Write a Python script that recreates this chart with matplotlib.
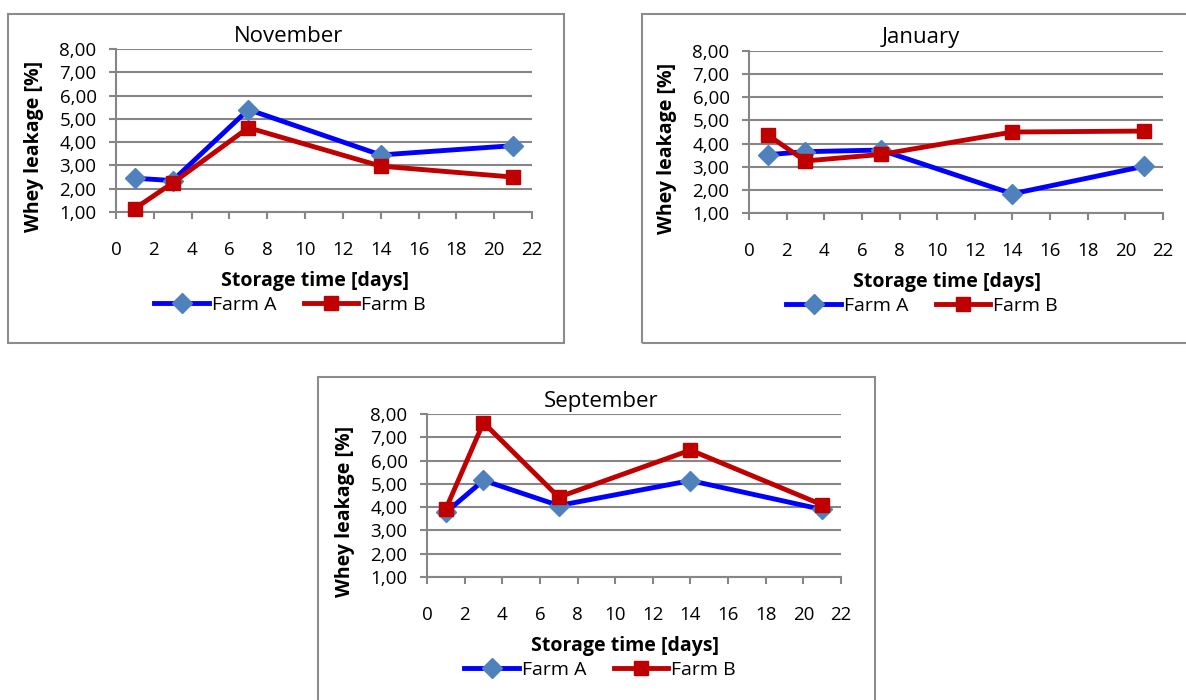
import matplotlib
matplotlib.use("Agg")
import matplotlib.pyplot as plt
from matplotlib.patches import Rectangle
from matplotlib.lines import Line2D
from matplotlib.ticker import FuncFormatter, MultipleLocator

plt.rcParams['font.family'] = ['Open Sans', 'DejaVu Sans']

days = [1, 3, 7, 14, 21]
months = ["November", "January", "September"]
farm_a = {
    "November": [2.45, 2.35, 5.40, 3.45, 3.85],
    "January": [3.52, 3.65, 3.72, 1.83, 3.02],
    "September": [3.77, 5.15, 4.07, 5.14, 3.90],
}
farm_b = {
    "November": [1.15, 2.25, 4.62, 2.97, 2.50],
    "January": [4.37, 3.25, 3.53, 4.50, 4.54],
    "September": [3.92, 7.63, 4.43, 6.45, 4.10],
}
series_names = ["Farm A", "Farm B"]
x_label = "Storage time [days]"
y_label = "Whey leakage [%]"

W, H = 1186, 700
fig = plt.figure(figsize=(W / 100, H / 100), dpi=100)

def fx(px):
    return px / W

def fy(py):
    return 1 - py / H

# layout in pixels: (axes left, axes right, axes top, axes bottom, box l, box r, box t, box b, title x)
layouts = {
    "November": (116, 532, 49, 212, 8, 564, 14, 343, 289),
    "January": (749, 1163, 51, 213, 642, 1200, 14, 343, 921),
    "September": (427, 841, 414, 577, 318, 875, 377, 710, 601),
}

blue = "#0000FF"
blue_marker = "#4F81BD"
red = "#C00000"
grid_c = "#868686"

for m in months:
    l, r, t, b, bl, br, bt, bb, tx = layouts[m]
    fig.patches.append(Rectangle((fx(bl), fy(bb)), fx(br - bl), (bb - bt) / H,
                                 transform=fig.transFigure, fill=False,
                                 edgecolor="#8C8C8C", linewidth=1.5, zorder=0))
    ax = fig.add_axes([fx(l), fy(b), fx(r - l), (b - t) / H])
    ax.set_xlim(0, 22)
    ax.set_ylim(1, 8)
    ax.xaxis.set_major_locator(MultipleLocator(2))
    ax.yaxis.set_major_locator(MultipleLocator(1))
    ax.yaxis.set_major_formatter(FuncFormatter(lambda v, p: f"{v:.2f}".replace(".", ",")))
    ax.grid(axis="y", color=grid_c, linewidth=1.5)
    ax.set_axisbelow(True)
    for s in ["top", "right"]:
        ax.spines[s].set_visible(False)
    for s in ["left", "bottom"]:
        ax.spines[s].set_color(grid_c)
        ax.spines[s].set_linewidth(1.5)
    ax.tick_params(axis="x", length=5, width=1.5, color=grid_c, pad=16, labelsize=13.5)
    ax.tick_params(axis="y", length=5, width=1.5, color=grid_c, pad=9, labelsize=13.5)
    ax.plot(days, farm_a[m], color=blue, linewidth=3.5, marker="D", markersize=10.5,
            markerfacecolor=blue_marker, markeredgecolor=blue_marker, clip_on=False, zorder=3)
    ax.plot(days, farm_b[m], color=red, linewidth=3.5, marker="s", markersize=10,
            markerfacecolor=red, markeredgecolor=red, clip_on=False, zorder=4)
    ax.set_ylabel(y_label, fontsize=14, fontweight="bold")
    ax.yaxis.set_label_coords(-72 / (r - l), 0.40)
    fig.text(fx(tx), fy(t - 13), m, ha="center", va="center", fontsize=16)
    fig.text(fx((l + r) / 2 - 9), fy(b + 69), x_label, ha="center", va="center",
             fontsize=14, fontweight="bold")
    handles = [
        Line2D([], [], color=blue, linewidth=3.5, marker="D", markersize=10.5,
               markerfacecolor=blue_marker, markeredgecolor=blue_marker),
        Line2D([], [], color=red, linewidth=3.5, marker="s", markersize=10,
               markerfacecolor=red, markeredgecolor=red),
    ]
    fig.legend(handles, series_names, loc="center",
               bbox_to_anchor=(fx((l + r) / 2 - 34), fy(b + 93)), ncol=2, frameon=False,
               fontsize=14, handlelength=2.8, handletextpad=0.15, columnspacing=1.4,
               borderpad=0)

fig.savefig("out.png", dpi=100)
